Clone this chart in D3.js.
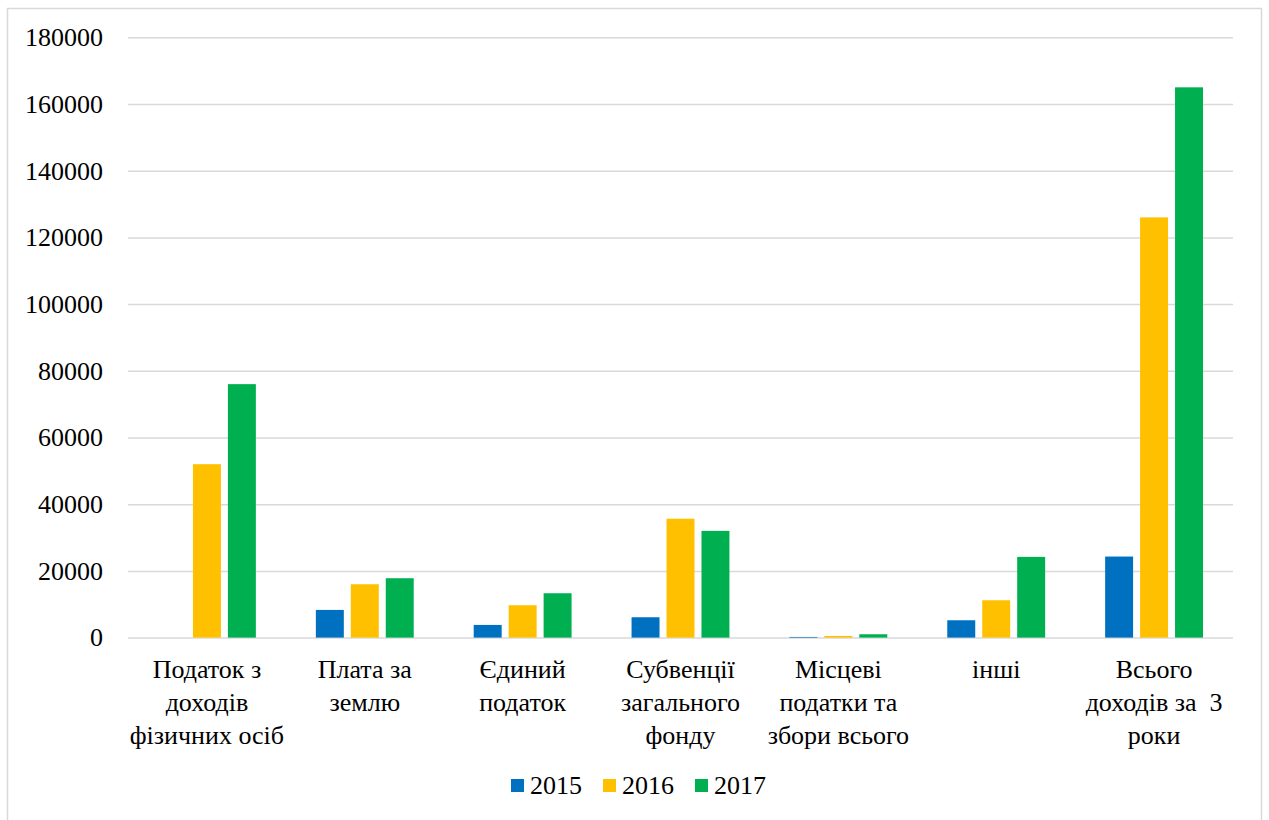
<!DOCTYPE html>
<html>
<head>
<meta charset="utf-8">
<script src="https://cdn.jsdelivr.net/npm/d3@7"></script>
<style>
  body { margin: 0; background: #fff; }
  svg text { font-family: "Liberation Serif", "DejaVu Serif", serif; fill: #000; }
</style>
</head>
<body>
<svg id="chart" width="1269" height="820"></svg>
<script>
// categories, each label split into its wrapped lines
const categories = [
  ['Податок з', 'доходів', 'фізичних осіб'],
  ['Плата за', 'землю'],
  ['Єдиний', 'податок'],
  ['Субвенції', 'загального', 'фонду'],
  ['Місцеві', 'податки та', 'збори всього'],
  ['інші'],
  ['Всього', 'доходів за  3', 'роки'],
];
const series = ['2015', '2016', '2017'];
const values2015 = [0, 8300, 3800, 6100, 200, 5200, 24300];
const values2016 = [52000, 16000, 9700, 35650, 500, 11200, 126000];
const values2017 = [76000, 17800, 13300, 32000, 1000, 24200, 165000];
const yTicks = [0, 20000, 40000, 60000, 80000, 100000, 120000, 140000, 160000, 180000];
const colors = ['#0070c0', '#ffc000', '#00b050'];

const allValues = [values2015, values2016, values2017];
const rows = categories.map((c, i) => ({
  key: i,
  lines: c,
  vals: series.map((s, j) => ({ s, v: allValues[j][i] })),
}));

const svg = d3.select('#chart');
const serif = '"Liberation Serif", "DejaVu Serif", serif';

// outer frame
svg.append('rect')
  .attr('x', 7.5).attr('y', 8.5)
  .attr('width', 1254).attr('height', 830)
  .attr('fill', 'none').attr('stroke', '#d9d9d9').attr('stroke-width', 1.5);

const plotLeft = 128, plotRight = 1233, plotTop = 37.3, plotBottom = 637.6;

const y = d3.scaleLinear().domain([0, 180000]).range([plotBottom, plotTop]);
const x = d3.scaleBand().domain(rows.map(r => r.key)).range([plotLeft, plotRight]).padding(0);
const inner = d3.scaleBand().domain(series)
  .range([x.bandwidth() * 0.19, x.bandwidth() * 0.81]).paddingInner(0.2).paddingOuter(0);

// gridlines + y labels
const yAxis = svg.append('g')
  .attr('transform', `translate(${plotLeft},0)`)
  .call(d3.axisLeft(y).tickValues(yTicks).tickSize(-(plotRight - plotLeft)).tickPadding(25).tickFormat(d3.format('d')))
  .attr('font-family', serif);
yAxis.select('.domain').remove();
yAxis.selectAll('line').attr('stroke', '#d9d9d9').attr('stroke-width', 1.5);
yAxis.selectAll('text').attr('font-size', 26).attr('fill', '#000');

// bars
const groups = svg.append('g').selectAll('g').data(rows).enter().append('g')
  .attr('transform', r => `translate(${x(r.key)},0)`);

groups.selectAll('rect').data(r => r.vals.filter(d => d.v > 0)).enter().append('rect')
  .attr('x', d => inner(d.s))
  .attr('y', d => y(d.v))
  .attr('width', inner.bandwidth())
  .attr('height', d => plotBottom - y(d.v))
  .attr('fill', d => colors[series.indexOf(d.s)]);

// category labels
const labels = svg.append('g').selectAll('text').data(rows).enter().append('text')
  .attr('x', r => x(r.key) + x.bandwidth() / 2)
  .attr('y', 678)
  .attr('text-anchor', 'middle')
  .attr('font-size', 26);
labels.selectAll('tspan').data(r => r.lines.map(l => ({ l, cx: x(r.key) + x.bandwidth() / 2 }))).enter().append('tspan')
  .attr('x', d => d.cx)
  .attr('dy', (d, i) => i === 0 ? 0 : 33)
  .style('white-space', 'pre')
  .text(d => d.l);

// legend
const legendX = [511, 603, 695];
const legend = svg.append('g').selectAll('g').data(series).enter().append('g')
  .attr('transform', (d, i) => `translate(${legendX[i]},779)`);
legend.append('rect').attr('width', 13).attr('height', 13).attr('fill', (d, i) => colors[i]);
legend.append('text').attr('x', 19).attr('y', 15).attr('font-size', 26).text(d => d);
</script>
</body>
</html>
